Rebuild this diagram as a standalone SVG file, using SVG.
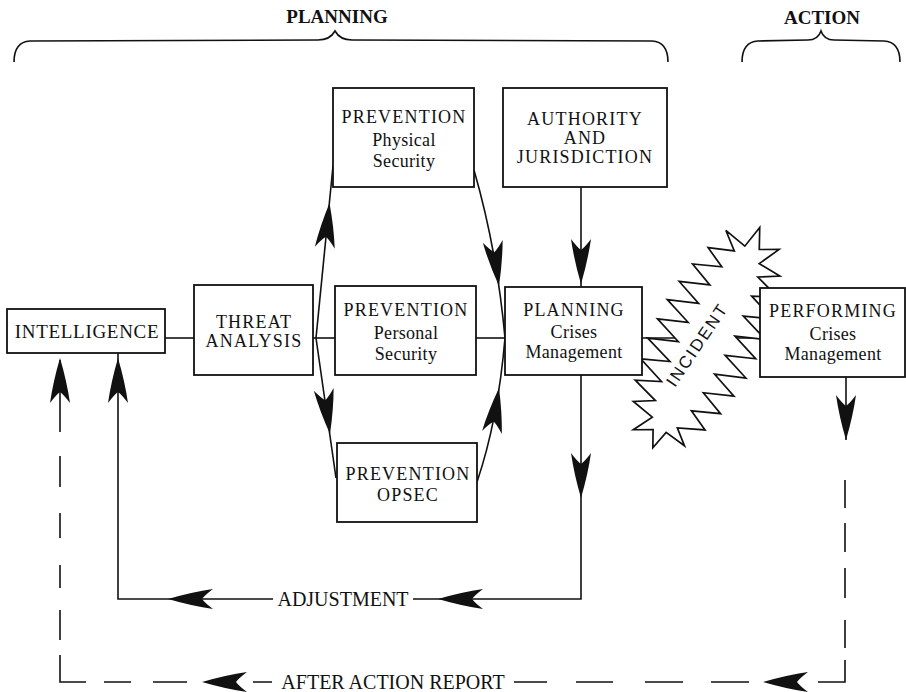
<svg xmlns="http://www.w3.org/2000/svg" xmlns:xlink="http://www.w3.org/1999/xlink" width="906" height="692" viewBox="0 0 906 692">
  <style>
    .box { fill: #fff; stroke: #111; stroke-width: 1.8; }
    .ln { fill: none; stroke: #111; stroke-width: 1.6; }
    .cap { font-family: "Liberation Serif", "Times New Roman", serif; font-size: 18px; letter-spacing: 1.2px; fill: #111; text-anchor: middle; }
    .low { font-family: "Liberation Serif", "Times New Roman", serif; font-size: 18px; letter-spacing: 0.3px; fill: #111; text-anchor: middle; }
    .lbl { font-family: "Liberation Serif", "Times New Roman", serif; font-size: 20px; fill: #111; text-anchor: middle; }
    .head { font-family: "Liberation Serif", "Times New Roman", serif; font-size: 19px; font-weight: bold; fill: #111; text-anchor: middle; }
    .burst { fill: #fff; stroke: #111; stroke-width: 1.7; stroke-linejoin: miter; vector-effect: non-scaling-stroke; }
  </style>
  <defs>
    <!-- barbed dart arrowhead, tip at the origin pointing along +x -->
    <path id="dart" d="M0,0 Q-24,-7 -45,-10 Q-37,-4 -34,0 Q-37,4 -45,10 Q-24,7 0,0 Z" fill="#111"/>
  </defs>
  <rect width="906" height="692" fill="#fff"/>

  <!-- phase braces -->
  <g id="phases">
    <path class="ln" stroke-width="2" d="M14,62 Q14,42 30,41 L318,40 Q330,40 335,31 Q340,40 352,40 L652,41 Q668,42 668,62"/>
    <text class="head" x="337" y="23">PLANNING</text>
    <path class="ln" stroke-width="2" d="M742,62 Q742,42 758,41 L808,40 Q818,40 821,31 Q824,40 834,40 L884,41 Q900,42 900,62"/>
    <text class="head" x="822" y="24">ACTION</text>
  </g>

  <!-- connectors -->
  <g id="connectors">
    <path class="ln" d="M165,338 H194"/>
    <path class="ln" d="M313,338 H335"/>
    <path class="ln" d="M476,338 H505"/>
    <path class="ln" d="M316,338 L333,166"/>
    <path class="ln" d="M316,338 L336,478"/>
    <path class="ln" d="M474,170 Q497,250 505,338"/>
    <path class="ln" d="M477,482 Q498,420 505,338"/>
    <path class="ln" d="M581,187 V287"/>
    <path class="ln" d="M642,338 H760"/>
    <!-- adjustment loop -->
    <path class="ln" d="M581,375 V599 H413"/>
    <path class="ln" d="M273,599 H118 V353"/>
    <!-- after action report loop -->
    <path class="ln" d="M846,377 V440"/>
    <path class="ln" d="M845,480 V508 M845,523 V552 M845,568 V598 M845,620 V648 M845,660 V682 H818"/>
    <path class="ln" d="M749,682 H711 M683,682 H645 M613,682 H576 M547,682 H514"/>
    <path class="ln" d="M272,682 H253 M187,682 H153 M131,682 H104 M86,682 H60 V655 M60,640 V610 M60,588 V565 M60,538 V513 M60,487 V456 M60,432 V360"/>
    <text class="lbl" x="343" y="605.5">ADJUSTMENT</text>
    <text class="lbl" x="393" y="688.5">AFTER ACTION REPORT</text>
    <use xlink:href="#dart" transform="translate(329.5,203) rotate(-84)"/>
    <use xlink:href="#dart" transform="translate(330,434) rotate(82)"/>
    <use xlink:href="#dart" transform="translate(499,286) rotate(82)"/>
    <use xlink:href="#dart" transform="translate(499,388) rotate(-81)"/>
    <use xlink:href="#dart" transform="translate(581,284) rotate(90)"/>
    <use xlink:href="#dart" transform="translate(581,498) rotate(90)"/>
    <use xlink:href="#dart" transform="translate(438,599) rotate(180)"/>
    <use xlink:href="#dart" transform="translate(168,599) rotate(180)"/>
    <use xlink:href="#dart" transform="translate(118,358) rotate(-90)"/>
    <use xlink:href="#dart" transform="translate(60,358) rotate(-90)"/>
    <use xlink:href="#dart" transform="translate(846,440) rotate(90)"/>
    <use xlink:href="#dart" transform="translate(202,682) rotate(180)"/>
    <use xlink:href="#dart" transform="translate(763,682) rotate(180)"/>
  </g>

  <g id="incident">
    <!-- jagged starburst drawn along its own long axis, then tilted -->
    <polygon class="burst" transform="translate(707,338) rotate(-63) scale(0.9,0.8)" points="-136,2 -118,-8 -128,-30 -106,-16 -100,-46 -88,-22 -78,-56 -66,-26 -54,-62 -42,-28 -30,-66 -18,-30 -6,-66 6,-30 18,-66 30,-29 42,-63 54,-27 66,-58 78,-24 90,-50 100,-19 116,-40 110,-10 136,-4 114,8 124,30 100,16 98,46 86,22 76,56 64,26 52,62 40,28 28,66 16,30 4,66 -8,30 -20,66 -32,29 -44,63 -56,27 -68,58 -80,24 -92,50 -104,18 -118,36 -114,8"/>
    <text transform="translate(702,348) rotate(-56)" x="0" y="0" style="font-family:'Liberation Sans','DejaVu Sans',sans-serif;font-size:17px;letter-spacing:2px;fill:#111;text-anchor:middle">INCIDENT</text>
  </g>

  <g id="intelligence">
    <rect class="box" x="7" y="309" width="158" height="44"/>
    <text class="cap" x="87" y="338" style="font-size:19px;letter-spacing:0.7px">INTELLIGENCE</text>
  </g>

  <g id="threat-analysis">
    <rect class="box" x="194" y="285" width="119" height="90"/>
    <text class="cap" x="254" y="328">THREAT</text>
    <text class="cap" x="254" y="347">ANALYSIS</text>
  </g>

  <g id="prevention-physical">
    <rect class="box" x="333" y="88" width="141" height="99"/>
    <text class="cap" x="404" y="123">PREVENTION</text>
    <text class="low" x="404" y="146">Physical</text>
    <text class="low" x="404" y="167">Security</text>
  </g>

  <g id="authority">
    <rect class="box" x="503" y="88" width="164" height="99"/>
    <text class="cap" x="585" y="125">AUTHORITY</text>
    <text class="cap" x="585" y="144">AND</text>
    <text class="cap" x="585" y="163">JURISDICTION</text>
  </g>

  <g id="prevention-personal">
    <rect class="box" x="335" y="286" width="141" height="89"/>
    <text class="cap" x="406" y="316">PREVENTION</text>
    <text class="low" x="406" y="339">Personal</text>
    <text class="low" x="406" y="360">Security</text>
  </g>

  <g id="prevention-opsec">
    <rect class="box" x="337" y="443" width="140" height="79"/>
    <text class="cap" x="408" y="480">PREVENTION</text>
    <text class="cap" x="408" y="501">OPSEC</text>
  </g>

  <g id="planning">
    <rect class="box" x="505" y="287" width="137" height="88"/>
    <text class="cap" x="574" y="316">PLANNING</text>
    <text class="low" x="574" y="338">Crises</text>
    <text class="low" x="574" y="358">Management</text>
  </g>

  <g id="performing">
    <rect class="box" x="760" y="288" width="145" height="89"/>
    <text class="cap" x="833" y="317">PERFORMING</text>
    <text class="low" x="833" y="340">Crises</text>
    <text class="low" x="833" y="360">Management</text>
  </g>
</svg>
